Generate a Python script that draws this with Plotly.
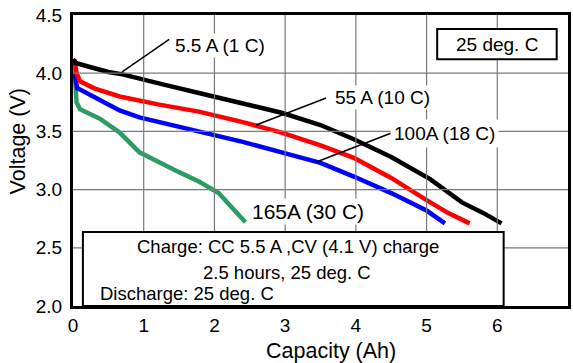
import plotly.graph_objects as go

# Data
cap_1c = [0, 0.03, 0.2, 0.5, 0.7, 1.0, 1.3, 1.78, 2.4, 2.95, 3.5, 3.98, 4.5, 5.05, 5.5, 5.8, 6.06]
v_1c = [4.12, 4.09, 4.06, 4.01, 3.99, 3.94, 3.90, 3.83, 3.74, 3.66, 3.555, 3.43, 3.28, 3.09, 2.89, 2.80, 2.71]

cap_10c = [0.02, 0.05, 0.1, 0.3, 0.66, 1.22, 1.78, 2.4, 2.95, 3.5, 3.98, 4.5, 5.0, 5.3, 5.61]
v_10c = [4.12, 4.00, 3.93, 3.87, 3.80, 3.73, 3.67, 3.58, 3.49, 3.38, 3.27, 3.10, 2.91, 2.80, 2.71]

cap_18c = [0.02, 0.06, 0.1, 0.38, 0.66, 0.94, 1.22, 1.78, 2.4, 2.95, 3.5, 3.98, 4.5, 5.0, 5.26]
v_18c = [4.00, 3.87, 3.86, 3.77, 3.68, 3.62, 3.58, 3.50, 3.41, 3.32, 3.23, 3.11, 2.97, 2.82, 2.71]

cap_30c = [0, 0.02, 0.05, 0.1, 0.38, 0.66, 0.94, 1.22, 1.5, 1.78, 2.06, 2.24, 2.44]
v_30c = [4.12, 4.05, 3.75, 3.69, 3.61, 3.49, 3.32, 3.23, 3.15, 3.07, 2.97, 2.85, 2.72]

x_ticks = [0, 1, 2, 3, 4, 5, 6, 7]
y_ticks = [2.0, 2.5, 3.0, 3.5, 4.0, 4.5]

FONT = "Liberation Sans, Arial, sans-serif"

fig = go.Figure()

for xs, ys, col in [(cap_30c, v_30c, "#2f9a66"), (cap_18c, v_18c, "#0000ff"),
                    (cap_10c, v_10c, "#ff0000"), (cap_1c, v_1c, "#000000")]:
    fig.add_trace(go.Scatter(x=xs, y=ys, mode="lines",
                             line=dict(color=col, width=4.5), showlegend=False))

# Grid lines as solid grey shapes (visual weight of the dotted black grid)
for xv in x_ticks[1:-1]:
    fig.add_shape(type="line", x0=xv, x1=xv, y0=2.0, y1=4.5, xref="x", yref="y",
                  line=dict(color="#7a7a7a", width=1.2))
for yv in y_ticks[1:-1]:
    fig.add_shape(type="line", x0=0, x1=7, y0=yv, y1=yv, xref="x", yref="y",
                  line=dict(color="#7a7a7a", width=1.2))

axis_common = dict(showline=True, linecolor="black", linewidth=3, mirror=True,
                   showgrid=False, zeroline=False, ticks="",
                   tickfont=dict(family=FONT, size=19, color="black"))

# White boxes
fig.add_shape(type="rect", x0=0.14, x1=6.09, y0=2.0, y1=2.636, xref="x", yref="y",
              line=dict(color="black", width=2), fillcolor="white", layer="above")
fig.add_shape(type="rect", x0=5.15, x1=6.84, y0=4.12, y1=4.38, xref="x", yref="y",
              line=dict(color="black", width=2), fillcolor="white", layer="above")

# Leader lines
for (x0, y0, x1, y1) in [(1.36, 4.29, 0.69, 4.01), (3.58, 3.787, 2.59, 3.555),
                         (4.54, 3.495, 3.44, 3.237)]:
    fig.add_shape(type="line", x0=x0, y0=y0, x1=x1, y1=y1, xref="x", yref="y",
                  line=dict(color="black", width=1.5))

def ann(text, x, y, size=19, bg=None, xanchor="center", pad=1):
    kw = dict(text=text, x=x, y=y, xref="x", yref="y", showarrow=False,
              font=dict(family=FONT, size=size, color="black"), xanchor=xanchor,
              borderpad=pad)
    if bg:
        kw["bgcolor"] = bg
    fig.add_annotation(**kw)

ann("5.5 A (1 C)", 2.08, 4.24, bg="white")
ann("55 A (10 C)", 4.38, 3.787, bg="white")
ann("100A (18 C)", 5.25, 3.486, bg="white", pad=3)
ann("165A (30 C)", 3.33, 2.81, size=21, bg="white")
ann("25 deg. C", 5.99, 4.25)
ann("Charge: CC 5.5 A ,CV (4.1 V) charge", 3.04, 2.507, size=18.5)
ann("2.5 hours, 25 deg. C", 3.03, 2.29, size=18.5)
ann("Discharge: 25 deg. C", 1.61, 2.11, size=18.5)

fig.add_annotation(text="Capacity (Ah)", x=(333 - 73) / 499, y=-0.155, xref="paper", yref="paper",
                   yanchor="middle", xanchor="center", showarrow=False,
                   font=dict(family=FONT, size=21.5, color="black"))
fig.add_annotation(text="Voltage (V)", x=(18 - 73) / 499, y=(306 - 141) / 291,
                   xref="paper", yref="paper", xanchor="center", yanchor="middle",
                   showarrow=False, textangle=-90,
                   font=dict(family=FONT, size=21.5, color="black"))

fig.update_xaxes(range=[0, 7], tickvals=x_ticks, ticktext=[str(v) for v in x_ticks],
                 ticklabelstandoff=0, **axis_common)
fig.update_yaxes(range=[2.0, 4.5], tickvals=y_ticks, ticktext=[f"{v:.1f}" for v in y_ticks],
                 ticklabelstandoff=4, **axis_common)

fig.update_layout(width=573, height=363, margin=dict(l=73, r=2, t=15, b=57),
                  plot_bgcolor="white", paper_bgcolor="white",
                  font=dict(family=FONT))

fig.write_html("out.html")
